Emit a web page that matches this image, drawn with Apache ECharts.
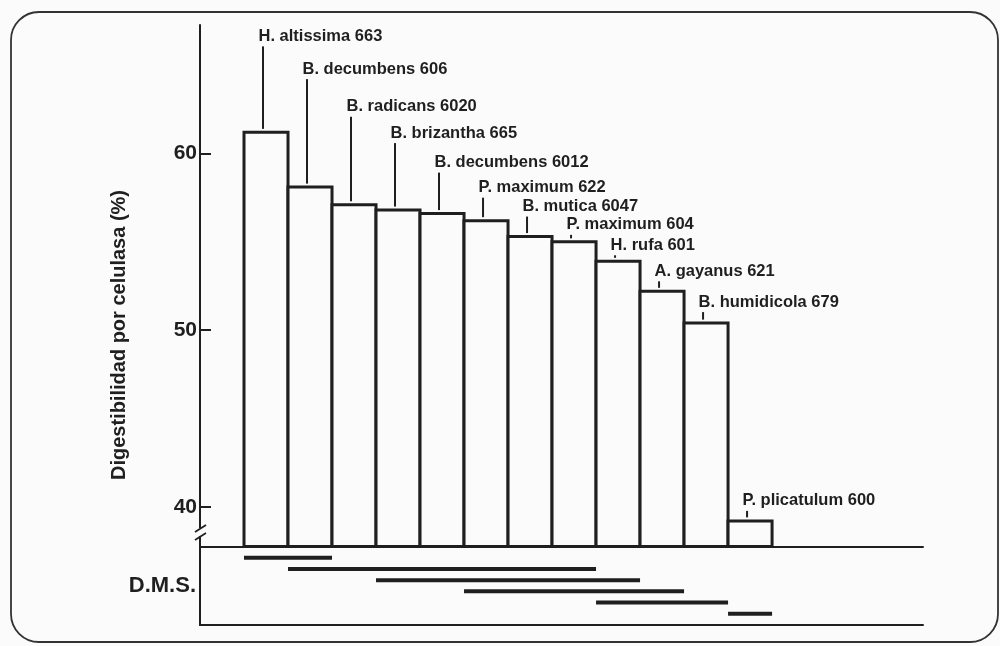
<!DOCTYPE html>
<html>
<head>
<meta charset="utf-8">
<script src="https://cdn.jsdelivr.net/npm/echarts@6.0.0/dist/echarts.min.js"></script>
<style>
  html, body { margin: 0; padding: 0; background: #fbfbfb; }
  #chart { width: 1000px; height: 646px; }
</style>
</head>
<body>
<div id="chart"></div>
<script>
// ---------- data ----------
const species = [
  'H. altissima 663', 'B. decumbens 606', 'B. radicans 6020', 'B. brizantha 665',
  'B. decumbens 6012', 'P. maximum 622', 'B. mutica 6047', 'P. maximum 604',
  'H. rufa 601', 'A. gayanus 621', 'B. humidicola 679', 'P. plicatulum 600'
];
const digestibility = [61.2, 58.1, 57.1, 56.8, 56.6, 56.2, 55.3, 55.0, 53.9, 52.2, 50.4, 39.2];
const yTicks = [40, 50, 60];
// D.M.S. groups: first and last bar (1-based) covered by each line
const dmsFrom = [1, 2, 4, 6, 9, 12];
const dmsTo   = [2, 8, 9, 10, 11, 12];

// ---------- layout / style ----------
const labelLift = [96, 118, 98, 77, 51, 33, 30, 17, 16, 20, 21, 20]; // px above bar top
const INK = '#1f1f1f';
const BG = '#fbfbfb';
const FONT = "'Liberation Sans', Arial, Helvetica, sans-serif";
const Y_MIN = 37.75, Y_MAX = 67.28;
const X_MAX = 16.43;

const barData = digestibility.map((v, i) => [i + 1.5, v]);
const dmsData = dmsFrom.map((f, k) => [f, dmsTo[k] + 1, k + 1]);

const chart = echarts.init(document.getElementById('chart'), null, { renderer: 'canvas' });

chart.setOption({
  backgroundColor: BG,
  animation: false,
  grid: [
    { left: 200, right: 77, top: 25, bottom: 99.5 },
    { left: 200, right: 77, top: 546.5, bottom: 21 }
  ],
  xAxis: [
    { gridIndex: 0, type: 'value', min: 0, max: X_MAX,
      axisLine: { show: true, onZero: false, lineStyle: { color: INK, width: 2 } },
      axisTick: { show: false }, axisLabel: { show: false }, splitLine: { show: false } },
    { gridIndex: 1, type: 'value', min: 0, max: X_MAX, position: 'bottom',
      axisLine: { show: true, onZero: false, lineStyle: { color: INK, width: 2 } },
      axisTick: { show: false }, axisLabel: { show: false }, splitLine: { show: false } }
  ],
  yAxis: [
    { gridIndex: 0, type: 'value', min: Y_MIN, max: Y_MAX,
      axisLine: { show: true, onZero: false, lineStyle: { color: INK, width: 2 } },
      axisTick: { show: true, inside: true, length: 11, customValues: yTicks,
        lineStyle: { color: INK, width: 2 } },
      axisLabel: { show: true, customValues: yTicks, margin: 3, color: INK,
        fontSize: 21, fontWeight: 'bold', fontFamily: FONT },
      splitLine: { show: false } },
    { gridIndex: 1, type: 'value', min: 0, max: 7, inverse: true,
      name: 'D.M.S.', nameLocation: 'middle', nameRotate: 0, nameGap: 4,
      nameTextStyle: { color: INK, fontSize: 22, fontWeight: 'bold', fontFamily: FONT },
      axisLine: { show: true, onZero: false, lineStyle: { color: INK, width: 2 } },
      axisTick: { show: false }, axisLabel: { show: false }, splitLine: { show: false } }
  ],
  series: [
    {
      type: 'custom', name: 'bars', xAxisIndex: 0, yAxisIndex: 0,
      data: barData,
      renderItem: function (params, api) {
        const x = api.value(0), v = api.value(1);
        const p1 = api.coord([x - 0.5, v]);
        const p2 = api.coord([x + 0.5, Y_MIN]);
        return {
          type: 'rect',
          shape: { x: p1[0], y: p1[1], width: p2[0] - p1[0], height: p2[1] - p1[1] },
          style: { fill: BG, stroke: INK, lineWidth: 3 }
        };
      }
    },
    {
      type: 'custom', name: 'labels', xAxisIndex: 0, yAxisIndex: 0,
      data: barData,
      z: 5,
      renderItem: function (params, api) {
        const i = params.dataIndex;
        const top = api.coord([api.value(0), api.value(1)]);
        const ly = top[1] - labelLift[i];
        return {
          type: 'group',
          children: [
            { type: 'line',
              shape: { x1: top[0] - 3, y1: ly + 10, x2: top[0] - 3, y2: top[1] - 3.5 },
              style: { stroke: INK, lineWidth: 2 } },
            { type: 'text', x: top[0] - 7.5, y: ly,
              style: { text: species[i], fill: INK, align: 'left', verticalAlign: 'middle',
                font: 'bold 16.5px ' + FONT } }
          ]
        };
      }
    },
    {
      type: 'custom', name: 'dms', xAxisIndex: 1, yAxisIndex: 1,
      data: dmsData,
      encode: { x: [0, 1], y: 2 },
      renderItem: function (params, api) {
        const lvl = api.value(2);
        const p1 = api.coord([api.value(0), lvl]);
        const p2 = api.coord([api.value(1), lvl]);
        return {
          type: 'line',
          shape: { x1: p1[0], y1: p1[1], x2: p2[0], y2: p2[1] },
          style: { stroke: INK, lineWidth: 4, lineCap: 'butt' }
        };
      }
    }
  ],
  graphic: [
    { type: 'rect', shape: { x: 11, y: 12, width: 987, height: 630, r: 28 },
      style: { fill: 'none', stroke: '#333', lineWidth: 1.8 }, z: -1, silent: true },
    { type: 'text', x: 119, y: 335, rotation: Math.PI / 2,
      style: { text: 'Digestibilidad por celulasa (%)', fill: INK, align: 'center',
        verticalAlign: 'middle', font: 'bold 20px ' + FONT } },
    // axis break marks
    { type: 'rect', shape: { x: 195, y: 528, width: 12, height: 8 }, style: { fill: BG }, z: 10 },
    { type: 'line', shape: { x1: 195, y1: 532, x2: 206, y2: 525 }, style: { stroke: INK, lineWidth: 1.8 }, z: 11 },
    { type: 'line', shape: { x1: 195, y1: 540, x2: 206, y2: 533 }, style: { stroke: INK, lineWidth: 1.8 }, z: 11 }
  ]
});
</script>
</body>
</html>
